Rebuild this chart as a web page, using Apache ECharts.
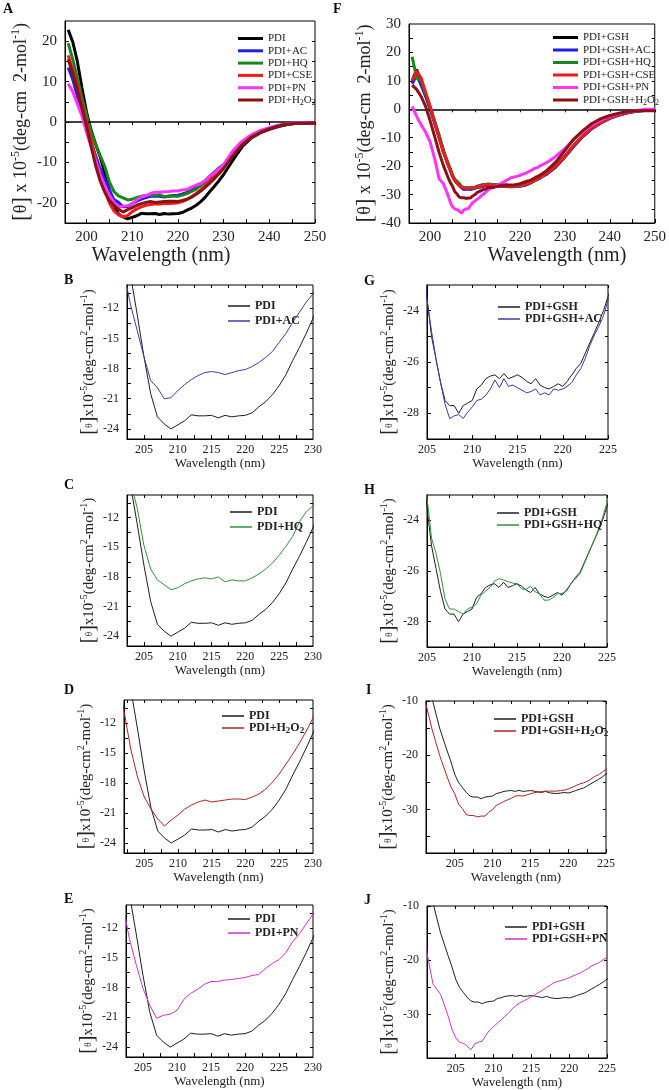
<!DOCTYPE html>
<html>
<head>
<meta charset="utf-8">
<script src="https://cdn.jsdelivr.net/npm/echarts@6/dist/echarts.min.js"></script>
<style>
  html, body { margin: 0; padding: 0; background: #fff; }
  #main { width: 669px; height: 1090px; }
</style>
</head>
<body>
<div id="main"></div>
<script>
var FONT = "Liberation Serif";

// ---- PDI series (panels A-E), wavelength in nm ----
var wlPdi = [196, 197, 198, 199, 200, 201, 202, 203, 204, 205, 206, 207, 208, 209, 210, 211, 212, 213, 214, 215,
  216, 217, 218, 219, 220, 221, 222, 223, 224, 225, 226, 227, 228, 229, 230,
  232, 234, 236, 238, 240, 242, 244, 246, 248, 250];
var pdi = [22.8, 19.8, 15, 8.5, 2.5, -2, -5.5, -8.6, -12.6, -16.8, -20.5, -22.8, -23.5, -24.0, -23.6, -23.2, -22.6, -22.7, -22.7, -22.65,
  -22.9, -22.65, -22.8, -22.7, -22.65, -22.4, -21.8, -21.3, -20.6, -19.7, -18.6, -17.2, -15.9, -14.5, -13.0,
  -9.5, -6.2, -4.0, -2.7, -1.8, -1.1, -0.6, -0.3, -0.3, -0.3];
var pdiAC = [13.5, 10.5, 6.5, 2.5, -1.5, -5, -8.3, -11.6, -14.2, -16.8, -19.2, -19.9, -21.0, -20.9, -20.2, -19.6, -19.1, -18.7, -18.4, -18.3,
  -18.4, -18.6, -18.4, -18.2, -18.1, -17.8, -17.4, -16.9, -16.3, -15.4, -14.5, -13.4, -12.4, -11.4, -10.6,
  -7.5, -5.0, -3.4, -2.3, -1.5, -0.9, -0.5, -0.3, -0.3, -0.3];
var pdiHQ = [19.5, 15.5, 11, 6, 1.8, -2.5, -5.5, -8.3, -11.0, -14.8, -17.2, -18.3, -18.8, -19.3, -19.1, -18.7, -18.4, -18.2, -18.1, -18.2,
  -18.0, -18.5, -18.3, -18.4, -18.4, -18.1, -17.7, -17.2, -16.6, -15.8, -14.9, -13.9, -12.4, -11.4, -10.8,
  -7.6, -5.1, -3.5, -2.4, -1.5, -0.9, -0.5, -0.3, -0.3, -0.3];
var pdiCSE = [16.5, 13, 9, 4.5, 0, -4.5, -9, -13, -17, -20, -22, -23, -23.5, -23.2, -22.2, -21.5, -21, -20.6, -20.4, -20.3,
  -20.3, -20.2, -20.2, -20.1, -20, -19.7, -19.2, -18.5, -17.7, -16.8, -15.8, -14.6, -13.3, -12, -10.8,
  -8.2, -5.6, -3.8, -2.6, -1.7, -1, -0.5, -0.3, -0.3, -0.3];
var pdiPN = [9.5, 7.5, 4.5, 1.5, -2.5, -6, -9.5, -13.1, -15.7, -18.1, -19.8, -21.1, -20.8, -20.7, -20.3, -19.2, -18.6, -18.2, -17.7, -17.4,
  -17.4, -17.25, -17.2, -17.1, -17, -16.8, -16.7, -16.1, -15.6, -15.2, -14.5, -13.4, -12.6, -11.6, -10.6,
  -7.2, -4.8, -3.2, -2.1, -1.4, -0.8, -0.4, -0.2, -0.2, -0.3];
var pdiH2O2 = [15.5, 12, 8, 3.5, -1, -6, -10.8, -14.6, -17.4, -19.4, -20.6, -21.6, -22.3, -21.7, -21.2, -20.6, -20.2, -19.9, -19.7, -19.9,
  -19.8, -19.7, -19.6, -19.6, -19.65, -19.4, -19.1, -18.6, -17.9, -17.1, -16.1, -15.1, -14, -12.8, -11.5,
  -8.4, -5.7, -3.8, -2.6, -1.7, -1, -0.5, -0.3, -0.3, -0.3];

// ---- PDI+GSH series (panels F-J) ----
var wlGsh = [196, 197, 198, 199, 200, 201, 202, 203, 204,
  204.5, 205, 205.5, 206, 206.5, 207, 207.5, 208, 208.5, 209, 209.5, 210, 210.5, 211, 211.5, 212, 212.5, 213, 213.5, 214, 214.5,
  215, 215.5, 216, 216.5, 217, 217.5, 218, 218.5, 219, 219.5, 220, 220.5, 221, 221.5, 222, 222.5, 223, 223.5, 224, 224.5, 225,
  226, 228, 230, 232, 234, 236, 238, 240, 242, 244, 246, 248, 250];
var gsh = [10, 14, 9, 5, 0.5, -4.5, -9.5, -15, -19.2,
  -21.2, -23.5, -25, -25.9, -26.8, -27.5, -27.7, -27.7, -28.0, -27.7, -27.6, -27.5, -27.05, -26.9, -26.65, -26.55, -26.5, -26.65, -26.45, -26.65, -26.58,
  -26.5, -26.6, -26.75, -26.85, -26.65, -26.9, -27.0, -27.05, -26.95, -26.85, -26.95, -26.75, -26.5, -26.25, -26.05, -25.65, -25.25, -24.85, -24.45, -24.0, -23.45,
  -22.5, -20, -16.6, -12.8, -9.5, -6.7, -4.7, -3.1, -2.0, -1.2, -0.6, -0.3, -0.2];
var gshAC = [9, 12, 8.5, 4.5, 0, -5, -10, -15.3, -19.5,
  -21.5, -23.6, -24.8, -25.9, -26.8, -27.65, -28.2, -28.1, -28.05, -28.2, -27.95, -27.75, -27.5, -27.45, -27.3, -27.05, -26.7, -27.0, -26.65, -26.95, -26.9,
  -27.0, -27.1, -27.2, -27.15, -27.05, -27.28, -27.2, -27.28, -27.05, -27.1, -27.05, -26.95, -26.8, -26.5, -26.25, -25.85, -25.35, -24.95, -24.6, -24.2, -23.6,
  -22.8, -20.3, -16.8, -13, -9.6, -6.8, -4.8, -3.2, -2, -1.2, -0.6, -0.4, -0.3];
var gshHQ = [18.5, 11, 10, 5.5, 1, -4, -9, -14.5, -19,
  -21.0, -23.1, -24.7, -25.3, -26.1, -27.1, -27.5, -27.5, -27.6, -27.7, -27.5, -27.42, -27.3, -26.95, -26.8, -26.65, -26.4, -26.3, -26.35, -26.42, -26.48,
  -26.5, -26.7, -26.72, -26.6, -26.82, -26.9, -27.15, -27.15, -27.05, -26.9, -26.88, -26.8, -26.5, -26.3, -26.1, -25.7, -25.25, -24.85, -24.4, -23.9, -23.3,
  -22.4, -19.8, -16.4, -12.6, -9.3, -6.6, -4.6, -3.0, -1.9, -1.1, -0.6, -0.3, -0.2];
var gshCSE = [10, 13.5, 11, 6, 1, -4.5, -10, -15.2, -19.5,
  -21.5, -23.5, -25, -26, -26.9, -27.5, -27.7, -27.8, -27.8, -27.7, -27.6, -27.5, -27.3, -27.1, -26.9, -26.7, -26.5, -26.4, -26.6, -26.7, -26.8,
  -26.9, -27, -27.1, -27.1, -27.1, -27.1, -27.1, -27.1, -27, -27, -26.9, -26.7, -26.5, -26.2, -25.9, -25.6, -25.2, -24.8, -24.4, -23.9, -23.4,
  -22.5, -20, -16.5, -12.6, -9.3, -6.6, -4.6, -3.0, -1.9, -1.1, -0.6, -0.3, -0.3];
var gshPN = [1, -2.5, -5.5, -8, -11.5, -17.3, -24.4, -26.3, -30.3,
  -32.7, -34.3, -35.1, -35.3, -35.8, -36.5, -35.4, -35.1, -34.9, -33.8, -32.8, -32.2, -31.6, -31, -30.3, -29.7, -28.9, -28.3, -27.8, -27.5, -27.1,
  -26.7, -26.3, -25.9, -25.5, -25, -24.6, -24.1, -23.9, -23.7, -23.5, -23.2, -22.9, -22.6, -22.3, -21.9, -21.5, -21, -20.7, -20.4, -19.9, -19.5,
  -18.7, -16.5, -13.8, -10.5, -7.8, -5.5, -3.8, -2.5, -1.6, -0.9, -0.4, 0, 0];
var gshH2O2 = [8.5, 7, 4.5, 1, -4, -9.5, -15.2, -20, -24,
  -25.8, -27.1, -29, -29.8, -30.9, -31.1, -31.1, -31.35, -31.2, -31.2, -30.5, -30, -29.2, -28.9, -28.5, -28.2, -27.9, -27.5, -27.45, -27.5, -27.3,
  -27.1, -26.9, -26.75, -26.7, -26.6, -26.6, -26.6, -26.6, -26.5, -26.4, -26.2, -25.9, -25.6, -25.3, -25.1, -24.8, -24.4, -23.9, -23.6, -23.1, -22.6,
  -21.5, -18.5, -14.5, -10.5, -7.5, -5, -3.3, -2.2, -1.4, -0.8, -0.5, -0.5, -0.5];

// ---- ticks and tick labels ----
var ticksWideX = [200, 205, 210, 215, 220, 225, 230, 235, 240, 245, 250];
var labelsWideX = [200, 210, 220, 230, 240, 250];
var ticksAY = [-20, -15, -10, -5, 0, 5, 10, 15, 20];
var labelsAY = [-20, -10, 0, 10, 20];
var ticksFY = [-35, -30, -25, -20, -15, -10, -5, 0, 5, 10, 15, 20, 25];
var labelsFY = [-40, -30, -20, -10, 0, 10, 20, 30];
var ticksPdiX = [202.5, 205, 207.5, 210, 212.5, 215, 217.5, 220, 222.5, 225, 227.5];
var labelsPdiX = [205, 210, 215, 220, 225, 230];
var ticksPdiY = [-24, -22.5, -21, -19.5, -18, -16.5, -15, -13.5, -12, -10.5];
var labelsPdiY = [-24, -21, -18, -15, -12];
var ticksGshX = [205, 207.5, 210, 212.5, 215, 217.5, 220, 222.5, 225];
var labelsGshX = [205, 210, 215, 220, 225];
var ticksGY = [-28, -27, -26, -25, -24];
var labelsGY = [-28, -26, -24];
var ticksIY = [-35, -30, -25, -20, -15, -10];
var labelsIY = [-30, -20, -10];

// colours: thick lines in A/F, thin lines in the zoomed panels
var thick = { black: "#000000", blue: "#1f1fe6", green: "#17871b", red: "#ee1b1b", pink: "#ff33ff", maroon: "#8b1212" };
var thin = { black: "#1e1e1e", blue: "#3b3ba6", green: "#2f9438", maroon: "#b42222", pink: "#cc33cc" };

var grids = [], xAxes = [], yAxes = [], series = [], legends = [];

function pairs(xs, ys) {
  return xs.map(function (x, i) { return [x, ys[i]]; });
}

function legendText(name) {
  return name.replace("H2O2", "H{sub|2}O{sub|2}");
}

function panel(p) {
  var k = grids.length;
  var big = !!p.big;
  grids.push({
    left: p.box[0], top: p.box[1], width: p.box[2], height: p.box[3],
    show: true, borderColor: "#000", borderWidth: 1, backgroundColor: "rgba(0,0,0,0)"
  });
  var yName = big
    ? "{br|[}{th|\u03b8}{br|]} x 10{sup|-5}(deg-cm  2-mol{sup|-1})"
    : "{br|[}{th|\u03b8}{br|]}x10{sup|-5}(deg-cm{sup|2}-mol{sup|-1})";
  var nameSize = big ? 18 : 15;
  xAxes.push({
    gridIndex: k, type: "value", position: "bottom", min: p.x[0], max: p.x[1],
    name: "Wavelength (nm)", nameLocation: "middle", nameGap: big ? 19 : 15,
    nameTextStyle: { fontFamily: FONT, fontSize: big ? 20 : 13, color: "#222", padding: p.namePad || 0 },
    axisLine: { onZero: false, lineStyle: { color: "#000" } },
    axisTick: { inside: true, length: 4, customValues: p.xTicks, lineStyle: { color: "#000" } },
    axisLabel: { customValues: p.xLabels, fontFamily: FONT, fontSize: big ? 15 : 12, color: "#222", margin: big ? 7 : 5 },
    splitLine: { show: false }
  });
  xAxes.push({
    gridIndex: k, type: "value", position: "top", min: p.x[0], max: p.x[1],
    axisLine: { show: false },
    axisTick: { inside: true, length: 3, customValues: p.xTicks, lineStyle: { color: "#000" } },
    axisLabel: { show: false }, splitLine: { show: false }
  });
  yAxes.push({
    gridIndex: k, type: "value", position: "left", min: p.y[0], max: p.y[1],
    name: yName, nameLocation: "middle", nameRotate: 90, nameGap: big ? 25 : 27,
    nameTextStyle: {
      fontFamily: FONT, fontSize: nameSize, color: "#222",
      rich: {
        br: { fontFamily: FONT, fontSize: nameSize + 5, color: "#222" },
        th: { fontFamily: FONT, fontSize: big ? nameSize : 10, color: "#222" },
        sup: { fontFamily: FONT, fontSize: big ? 12 : 10, color: "#222", padding: [0, 0, big ? 11 : 10, 0] }
      }
    },
    axisLine: { onZero: false, lineStyle: { color: "#000" } },
    axisTick: { inside: true, length: 4, customValues: p.yTicks, lineStyle: { color: "#000" } },
    axisLabel: { customValues: p.yLabels, fontFamily: FONT, fontSize: big ? 15 : 12, color: "#222", margin: 8 },
    splitLine: { show: false }
  });
  yAxes.push({
    gridIndex: k, type: "value", position: "right", min: p.y[0], max: p.y[1],
    axisLine: { show: false },
    axisTick: { inside: true, length: 3, customValues: p.yTicks, lineStyle: { color: "#000" } },
    axisLabel: { show: false }, splitLine: { show: false }
  });

  p.lines.forEach(function (l, i) {
    var s = {
      type: "line", name: l.name, xAxisIndex: 2 * k, yAxisIndex: 2 * k,
      data: pairs(l.x, l.y), symbol: "none", showSymbol: false, silent: true, z: 2 + i,
      lineStyle: { color: l.color, width: big ? 3 : 1 }, itemStyle: { color: l.color }
    };
    if (big && i === 0) {
      s.markLine = {
        silent: true, symbol: ["none", "none"], label: { show: false },
        lineStyle: { color: "#000", width: 1.5, type: "solid" },
        data: [{ yAxis: 0 }]
      };
    }
    series.push(s);
  });

  legends.push({
    orient: "vertical", left: p.leg[0], top: p.leg[1], itemGap: p.leg[2],
    itemWidth: big ? 25 : 22, itemHeight: big ? 3 : 1.5, icon: "rect", selectedMode: false,
    data: p.lines.map(function (l) { return { name: l.name, itemStyle: { color: l.color } }; }),
    formatter: legendText,
    textStyle: {
      fontFamily: FONT, fontSize: big ? 11 : 12, fontWeight: big ? "normal" : "bold", color: "#222",
      rich: { sub: { fontFamily: FONT, fontSize: big ? 8 : 9, fontWeight: big ? "normal" : "bold", color: "#222", padding: [6, 0, 0, 0] } }
    }
  });
}

// A
panel({
  big: true, box: [65, 21, 250, 202], x: [195.3, 250], y: [-25, 25],
  xTicks: ticksWideX, xLabels: labelsWideX, yTicks: ticksAY, yLabels: labelsAY,
  namePad: [0, 58, 0, 0], leg: [233, 28, 1.3],
  lines: [
    { name: "PDI", x: wlPdi, y: pdi, color: thick.black },
    { name: "PDI+AC", x: wlPdi, y: pdiAC, color: thick.blue },
    { name: "PDI+HQ", x: wlPdi, y: pdiHQ, color: thick.green },
    { name: "PDI+CSE", x: wlPdi, y: pdiCSE, color: thick.red },
    { name: "PDI+PN", x: wlPdi, y: pdiPN, color: thick.pink },
    { name: "PDI+H2O2", x: wlPdi, y: pdiH2O2, color: thick.maroon }
  ]
});
// F
panel({
  big: true, box: [409, 24, 249, 199], x: [195.3, 250], y: [-40, 30],
  xTicks: ticksWideX, xLabels: labelsWideX, yTicks: ticksFY, yLabels: labelsFY,
  namePad: [0, 0, 0, 50], leg: [548, 27, 1.5],
  lines: [
    { name: "PDI+GSH", x: wlGsh, y: gsh, color: thick.black },
    { name: "PDI+GSH+AC", x: wlGsh, y: gshAC, color: thick.blue },
    { name: "PDI+GSH+HQ", x: wlGsh, y: gshHQ, color: thick.green },
    { name: "PDI+GSH+CSE", x: wlGsh, y: gshCSE, color: thick.red },
    { name: "PDI+GSH+PN", x: wlGsh, y: gshPN, color: thick.pink },
    { name: "PDI+GSH+H2O2", x: wlGsh, y: gshH2O2, color: thick.maroon }
  ]
});

// B-E: PDI against one treatment
var pdiPanels = [
  { box: [127, 285, 186, 154], x: [202.5, 230], leg: [223, 295, 3], name: "PDI+AC", y: pdiAC, color: thin.blue },
  { box: [127, 495, 186, 151], x: [202.5, 230], leg: [225, 501, 3], name: "PDI+HQ", y: pdiHQ, color: thin.green },
  { box: [124, 700, 189, 153], x: [202, 230], leg: [217, 705, 0], name: "PDI+H2O2", y: pdiH2O2, color: thin.maroon },
  { box: [126, 905, 187, 152], x: [202.5, 230], leg: [223, 908, 2], name: "PDI+PN", y: pdiPN, color: thin.pink }
];
// G-J: PDI+GSH against one treatment
var gshPanels = [
  { box: [427, 285, 181, 154], x: [205, 225], y: [-29, -23], yTicks: ticksGY, yLabels: labelsGY, leg: [493, 296, 0], name: "PDI+GSH+AC", data: gshAC, color: thin.blue },
  { box: [427, 495, 180, 152], x: [205, 225], y: [-29, -23], yTicks: ticksGY, yLabels: labelsGY, leg: [492, 502, 0], name: "PDI+GSH+HQ", data: gshHQ, color: thin.green },
  { box: [426, 701, 180, 152], x: [201.2, 225], y: [-38, -10], yTicks: ticksIY, yLabels: labelsIY, leg: [489, 708, 0], name: "PDI+GSH+H2O2", data: gshH2O2, color: thin.maroon },
  { box: [427, 906, 180, 152], x: [201.2, 225], y: [-38, -10], yTicks: ticksIY, yLabels: labelsIY, leg: [500, 916, 0], name: "PDI+GSH+PN", data: gshPN, color: thin.pink }
];

for (var i = 0; i < 4; i++) {
  var a = pdiPanels[i];
  panel({
    box: a.box, x: a.x, y: [-25, -9.7],
    xTicks: ticksPdiX, xLabels: labelsPdiX, yTicks: ticksPdiY, yLabels: labelsPdiY, leg: a.leg,
    lines: [
      { name: "PDI", x: wlPdi, y: pdi, color: thin.black },
      { name: a.name, x: wlPdi, y: a.y, color: a.color }
    ]
  });
  var g = gshPanels[i];
  panel({
    box: g.box, x: g.x, y: g.y,
    xTicks: ticksGshX, xLabels: labelsGshX, yTicks: g.yTicks, yLabels: g.yLabels, leg: g.leg,
    lines: [
      { name: "PDI+GSH", x: wlGsh, y: gsh, color: thin.black },
      { name: g.name, x: wlGsh, y: g.data, color: g.color }
    ]
  });
}

var letters = [["A", 3, 2], ["F", 333, 2], ["B", 64, 273], ["G", 364, 274], ["C", 64, 478],
  ["H", 364, 483], ["D", 64, 683], ["I", 366, 683], ["E", 64, 892], ["J", 364, 893]];

var myChart = echarts.init(document.getElementById("main"));
var option = {
  animation: false,
  backgroundColor: "#fff",
  grid: grids,
  xAxis: xAxes,
  yAxis: yAxes,
  legend: legends,
  series: series,
  graphic: letters.map(function (l) {
    return {
      type: "text", left: l[1], top: l[2],
      style: { text: l[0], fontFamily: FONT, fontSize: 14, fontWeight: "bold", fill: "#111" }
    };
  })
};
myChart.setOption(option);
</script>
</body>
</html>
